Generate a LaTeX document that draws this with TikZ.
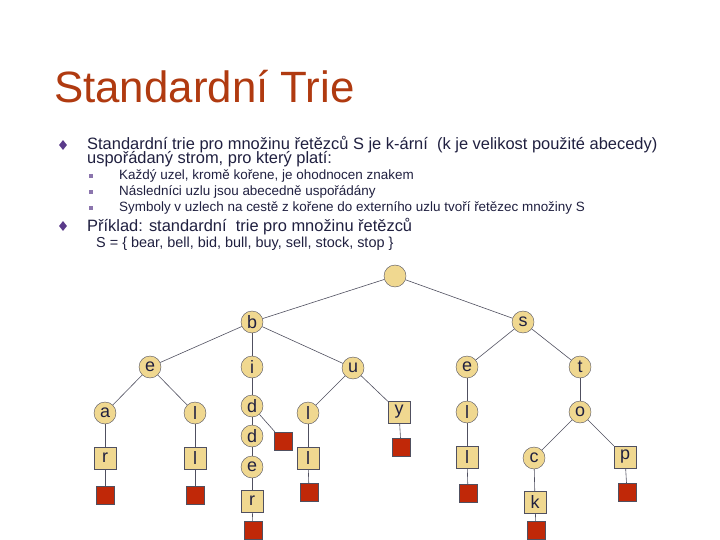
\documentclass[tikz,border=0pt]{standalone}
\usepackage{fontspec}
\setmainfont{Liberation Sans}
\usetikzlibrary{shapes.geometric}
\definecolor{nfill}{HTML}{F0D890}
\definecolor{nline}{HTML}{505060}
\definecolor{ered}{HTML}{C02808}
\definecolor{ttl}{HTML}{B03A10}
\definecolor{txt}{HTML}{202040}
\definecolor{bul}{HTML}{5A3A8A}
\tikzset{
  cn/.style={circle,draw=nline,fill=nfill,minimum size=22bp,inner sep=0pt,font=\fontsize{18}{18}\selectfont,text=txt},
  bn/.style={rectangle,draw=nline,fill=nfill,minimum size=22bp,inner sep=0pt,font=\fontsize{18}{18}\selectfont,text=txt},
  en/.style={rectangle,draw=nline,fill=ered,minimum size=18bp,inner sep=0pt},
  ed/.style={draw=nline,line width=0.6bp},
  dia/.style={diamond,fill=bul,minimum width=8bp,minimum height=10bp,inner sep=0pt},
  sq/.style={rectangle,fill=bul!70,minimum size=4.5bp,inner sep=0pt},
  tx/.style={anchor=west,inner sep=0pt,text=txt,align=left}
}
\begin{document}
\begin{tikzpicture}[x=1bp,y=-1bp]
\useasboundingbox[fill=white] (0,0) rectangle (720,540);
\node[tx,text=ttl,font=\fontsize{44}{44}\selectfont] (title) at (54,87) {Standardní Trie};
\node[dia] (d1) at (63,145) {};
\node[tx,font=\fontsize{16.5}{16}\selectfont] (t1) at (87,145) {Standardní trie pro množinu řetězců S je k-ární\ \ (k je velikost použité abecedy)};
\node[tx,font=\fontsize{16.5}{16}\selectfont] (t1b) at (87,159) {uspořádaný strom, pro který platí:};
\node[sq] (s1) at (91,176) {};
\node[sq] (s2) at (91,192) {};
\node[sq] (s3) at (91,208) {};
\node[tx,font=\fontsize{13.5}{14}\selectfont] (t2) at (119,176) {Každý uzel, kromě kořene, je ohodnocen znakem};
\node[tx,font=\fontsize{13.5}{14}\selectfont] (t3) at (119,192) {Následníci uzlu jsou abecedně uspořádány};
\node[tx,font=\fontsize{13.5}{14}\selectfont] (t4) at (119,208) {Symboly v uzlech na cestě z kořene do externího uzlu tvoří řetězec množiny S};
\node[dia] (d2) at (63,226) {};
\node[tx,font=\fontsize{16.5}{16}\selectfont] (t5) at (87,227) {Příklad: standardní\ \ trie pro množinu řetězců};
\node[tx,font=\fontsize{14.5}{14}\selectfont] (t6) at (96,244) {S = \{ bear, bell, bid, bull, buy, sell, stock, stop \}};

\node[cn] (root) at (395,276) {};
\node[cn] (b) at (252,322) {b};
\node[cn] (s) at (523,322) {s};
\node[cn] (e1) at (150,367) {e};
\node[cn] (i) at (252,367) {i};
\node[cn] (u) at (353,368) {u};
\node[cn] (e2) at (467,367) {e};
\node[cn] (t) at (580,367) {t};
\node[cn] (a) at (105,413) {a};
\node[cn] (l1) at (195,413) {l};
\node[cn] (d) at (252,406) {d};
\node[cn] (l2) at (308,413) {l};
\node[bn] (y) at (399,412) {y};
\node[cn] (l3) at (467,412) {l};
\node[cn] (o) at (580,412) {o};
\node[bn] (r1) at (105,458) {r};
\node[bn] (l4) at (195,458) {l};
\node[cn] (dd) at (252,436) {d};
\node[en] (x1) at (283,441) {};
\node[bn] (l5) at (308,458) {l};
\node[en] (x2) at (401,447) {};
\node[bn] (l6) at (467,457) {l};
\node[cn] (c) at (534,458) {c};
\node[bn] (p) at (625,457) {p};
\node[cn] (ee) at (252,467) {e};
\node[en] (x3) at (105,495) {};
\node[en] (x4) at (195,495) {};
\node[bn] (r2) at (252,501) {r};
\node[en] (x5) at (309,492) {};
\node[en] (x6) at (468,493) {};
\node[bn] (k) at (535,502) {k};
\node[en] (x7) at (627,492) {};
\node[en] (x8) at (253,530) {};
\node[en] (x9) at (536,530) {};

\foreach \p/\q in {root/b,root/s,b/e1,b/i,b/u,s/e2,s/t,e1/a,e1/l1,i/d,u/l2,u/y,e2/l3,t/o,a/r1,l1/l4,d/dd,d/x1,l2/l5,y/x2,l3/l6,o/c,o/p,dd/ee,r1/x3,l4/x4,ee/r2,l5/x5,l6/x6,c/k,p/x7,r2/x8,k/x9}
  \draw[ed] (\p) -- (\q);
\end{tikzpicture}
\end{document}
